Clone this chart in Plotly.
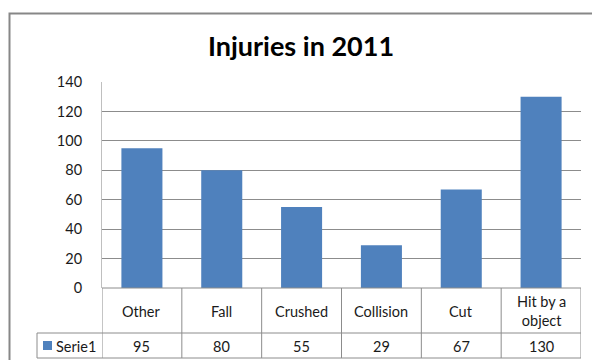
import plotly.graph_objects as go

categories = ["Other", "Fall", "Crushed", "Collision", "Cut", "Hit by a object"]
cat_labels = ["Other", "Fall", "Crushed", "Collision", "Cut", "Hit by a<br>object"]
values = [95, 80, 55, 29, 67, 130]
series_name = "Serie1"
title_text = "Injuries in 2011"

BAR = "#4F81BD"
LINE = "#8C8C8C"
FONT = "Lato, 'Open Sans', sans-serif"
TXT = "#1a1a1a"
FS = 14.5

fig = go.Figure()
fig.add_trace(go.Bar(x=categories, y=values, marker=dict(color=BAR, line=dict(width=0)),
                     name=series_name, showlegend=False))

W, H = 592, 360
L, R, T, B = 102, 11, 82, 72
pw, ph = W - L - R, H - T - B

def py(ypx):
    return (H - B - ypx) / ph

def px(xpx):
    return (xpx - L) / pw

shapes = []
# outer chart border
shapes.append(dict(type="rect", xref="paper", yref="paper", x0=px(9.5), x1=px(600), y0=py(370), y1=py(13.5),
                   line=dict(color="#878787", width=2), fillcolor="rgba(0,0,0,0)", layer="below"))
# table horizontal lines
shapes.append(dict(type="line", xref="paper", yref="paper", x0=0, x1=1, y0=py(288), y1=py(288),
                   line=dict(color=LINE, width=1)))
for yy in (333, 358):
    shapes.append(dict(type="line", xref="paper", yref="paper", x0=px(37), x1=1, y0=py(yy), y1=py(yy),
                       line=dict(color=LINE, width=1)))
# table vertical lines at category boundaries
n = len(categories)
for i in range(n + 1):
    shapes.append(dict(type="line", xref="x", yref="paper", x0=i - 0.5, x1=i - 0.5, y0=py(288), y1=py(358),
                       line=dict(color=LINE, width=1)))
shapes.append(dict(type="line", xref="paper", yref="paper", x0=px(37), x1=px(37), y0=py(333), y1=py(358),
                   line=dict(color=LINE, width=1)))
# legend key square
shapes.append(dict(type="rect", xref="paper", yref="paper", x0=px(43), x1=px(52), y0=py(350), y1=py(341),
                   line=dict(width=0), fillcolor=BAR))

annotations = []
for i, (lab, v) in enumerate(zip(cat_labels, values)):
    annotations.append(dict(x=categories[i], xref="x", y=py(311), yref="paper", text=lab, showarrow=False,
                            xanchor="center", yanchor="middle", font=dict(family=FONT, size=FS, color=TXT),
                            align="center"))
    annotations.append(dict(x=categories[i], xref="x", y=py(346), yref="paper", text=str(v), showarrow=False,
                            xanchor="center", yanchor="middle", font=dict(family=FONT, size=FS, color=TXT)))
annotations.append(dict(x=px(54), xref="paper", y=py(346), yref="paper", text=series_name, showarrow=False,
                        xanchor="left", yanchor="middle", font=dict(family=FONT, size=FS, color=TXT)))

fig.update_layout(
    width=W, height=H,
    margin=dict(l=L, r=R, t=T, b=B, pad=0),
    paper_bgcolor="white", plot_bgcolor="white",
    bargap=0.486,
    title=dict(text="<b>" + title_text + "</b>", x=301 / W, xanchor="center", y=1 - 47 / H, yanchor="middle",
               xref="container", yref="container",
               font=dict(family=FONT, size=27, color="black")),
    xaxis=dict(range=[-0.5, n - 0.5], showticklabels=False, showgrid=False, showline=False, zeroline=False,
               ticks=""),
    yaxis=dict(range=[0, 140], dtick=20, showgrid=True, gridcolor=LINE, gridwidth=1, zeroline=False,
               showline=True, linecolor="#BFBFBF", linewidth=1, ticks="", ticklabelstandoff=16,
               tickfont=dict(family=FONT, size=FS, color=TXT)),
    shapes=shapes,
    annotations=annotations,
    font=dict(family=FONT),
)

fig.write_html("out.html")
